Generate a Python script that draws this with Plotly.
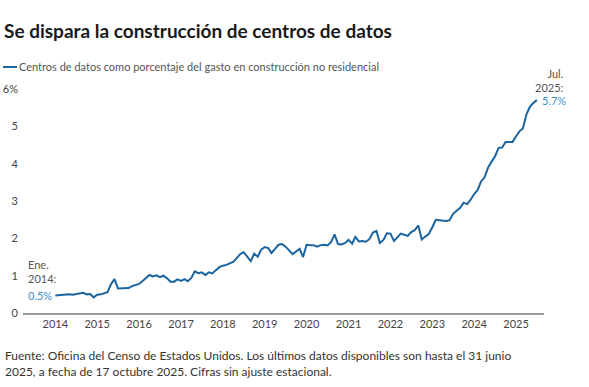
import pandas as pd
import plotly.graph_objects as go

# Monthly share of data-center spending in non-residential construction (%), Jan 2014 - Jul 2025
values_2014 = [0.47, 0.48, 0.48, 0.49, 0.50, 0.49, 0.50, 0.53, 0.54, 0.50, 0.51, 0.42]
values_2015 = [0.49, 0.50, 0.52, 0.56, 0.77, 0.91, 0.66, 0.66, 0.67, 0.67, 0.72, 0.74]
values_2016 = [0.78, 0.86, 0.95, 1.02, 0.98, 1.01, 0.96, 1.00, 0.93, 0.84, 0.84, 0.90]
values_2017 = [0.86, 0.91, 0.85, 0.94, 1.12, 1.07, 1.09, 1.02, 1.09, 1.06, 1.15, 1.23]
values_2018 = [1.27, 1.29, 1.33, 1.37, 1.47, 1.58, 1.63, 1.50, 1.39, 1.59, 1.51, 1.70]
values_2019 = [1.77, 1.74, 1.61, 1.72, 1.83, 1.85, 1.78, 1.68, 1.58, 1.65, 1.72, 1.50]
values_2020 = [1.83, 1.82, 1.82, 1.78, 1.82, 1.83, 1.81, 1.90, 2.11, 1.85, 1.84, 1.88]
values_2021 = [1.96, 1.86, 2.04, 1.92, 1.93, 1.91, 1.98, 2.16, 2.20, 1.88, 1.96, 2.14]
values_2022 = [2.13, 1.93, 2.02, 2.13, 2.10, 2.07, 2.17, 2.22, 2.35, 1.97, 2.05, 2.12]
values_2023 = [2.30, 2.50, 2.49, 2.47, 2.47, 2.49, 2.66, 2.74, 2.82, 2.96, 2.92, 3.04]
values_2024 = [3.19, 3.30, 3.53, 3.64, 3.90, 4.06, 4.20, 4.43, 4.44, 4.59, 4.59, 4.59]
values_2025 = [4.74, 4.88, 4.95, 5.33, 5.53, 5.64, 5.71]

values = (values_2014 + values_2015 + values_2016 + values_2017 + values_2018 + values_2019
          + values_2020 + values_2021 + values_2022 + values_2023 + values_2024 + values_2025)
dates = pd.date_range("2014-01-01", periods=len(values), freq="MS")

year_ticks = [f"{y}-01-01" for y in range(2014, 2026)]
year_labels = [str(y) for y in range(2014, 2026)]
y_ticks = [0, 1, 2, 3, 4, 5, 6]
y_labels = ["0", "1", "2", "3", "4", "5", "6%"]

title = "Se dispara la construcción de centros de datos"
series_name = "Centros de datos como porcentaje del gasto en construcción no residencial"
source = ("Fuente: Oficina del Censo de Estados Unidos. Los últimos datos disponibles son hasta el 31 junio<br>"
          "2025, a fecha de 17 octubre 2025. Cifras sin ajuste estacional.")

LINE = "#1a64a0"
LABEL_BLUE = "#3b8fd0"
GRAY = "#555555"
FONT = "Lato"

fig = go.Figure()
fig.add_trace(go.Scatter(x=dates, y=values, mode="lines", name=series_name,
                         line=dict(color=LINE, width=2), showlegend=False,
                         hoverinfo="skip"))

W, H = 589, 387
L, R, T, B = 23, 45, 80, 73.5
px_w = W - L - R
px_h = H - T - B

fig.update_layout(
    width=W, height=H,
    margin=dict(l=L, r=R, t=T, b=B, autoexpand=False),
    paper_bgcolor="white", plot_bgcolor="white",
    font=dict(family=FONT, size=11, color=GRAY),
    xaxis=dict(range=["2013-03-25", "2025-09-01"], tickvals=year_ticks, ticktext=year_labels,
               showgrid=False, zeroline=False, showline=True, linecolor="#9a9a9a",
               linewidth=1.5, ticks="", automargin=False,
               tickfont=dict(size=11, color="#444444")),
    yaxis=dict(range=[0, 6.25], tickvals=y_ticks, ticktext=y_labels, showgrid=False,
               zeroline=False, showline=False, ticks="", ticklabelstandoff=4,
               automargin=False, tickfont=dict(size=11, color="#444444")),
)

# Title
fig.add_annotation(text=f"<b>{title}</b>", xref="paper", yref="paper",
                   x=-(L - 2) / px_w, y=1 + (T - 30) / px_h, xanchor="left", yanchor="middle",
                   showarrow=False, font=dict(family=FONT, size=19, color="#1a1a1a"))

# Legend key
fig.add_shape(type="line", xref="paper", yref="paper",
              x0=-(L - 3) / px_w, x1=-(L - 17) / px_w, y0=1 + 13 / px_h, y1=1 + 13 / px_h,
              line=dict(color=LINE, width=2))
fig.add_annotation(text=series_name, xref="paper", yref="paper",
                   x=-(L - 17) / px_w, y=1 + 14 / px_h, xanchor="left", yanchor="middle",
                   showarrow=False, font=dict(family=FONT, size=11, color=GRAY))

# Start labels
fig.add_annotation(x=dates[0], y=values[0], text="0.5%", xanchor="left", yanchor="middle",
                   xshift=-29, showarrow=False, font=dict(color=LABEL_BLUE, size=11))
fig.add_annotation(x=dates[0], y=values[0], text="Ene.<br>2014:", xanchor="left", yanchor="bottom",
                   align="left", xshift=-29, yshift=8, showarrow=False,
                   font=dict(color=GRAY, size=11))

# End labels
fig.add_annotation(x=dates[-1], y=values[-1], text="5.7%", xanchor="left", yanchor="middle",
                   xshift=3, showarrow=False, font=dict(color=LABEL_BLUE, size=11))
fig.add_annotation(x=dates[-1], y=values[-1], text="Jul.<br>2025:", xanchor="right", yanchor="bottom",
                   align="right", xshift=29, yshift=4, showarrow=False,
                   font=dict(color=GRAY, size=11))

# Source
fig.add_annotation(text=source, xref="paper", yref="paper", x=-(L - 3) / px_w,
                   y=-(347 - (H - B)) / px_h, xanchor="left", yanchor="top", align="left",
                   showarrow=False, font=dict(family=FONT, size=12, color="#333333"))

fig.write_html("out.html", config={"displayModeBar": False},
               post_script="document.body.style.margin='0px';")
